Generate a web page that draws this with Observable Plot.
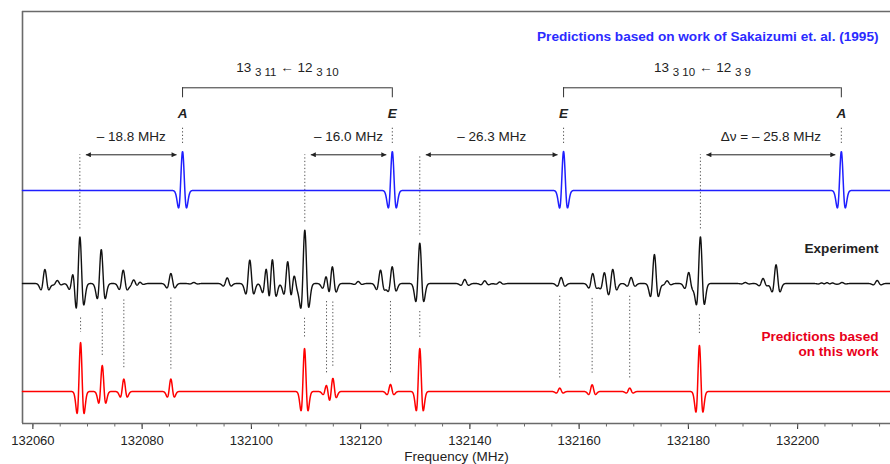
<!DOCTYPE html>
<html><head><meta charset="utf-8">
<script src="https://cdn.jsdelivr.net/npm/d3@7"></script>
<script src="https://cdn.jsdelivr.net/npm/@observablehq/plot@0.6"></script>
<style>body{margin:0;background:#fff}#chart svg{display:block}</style>
</head><body><div id="chart"></div>
<script>
// ---------- data ----------
const tickLabels = [132060, 132080, 132100, 132120, 132140, 132160, 132180, 132200];
const minorTicks = [132060,132065,132070,132075,132080,132085,132090,132095,132100,132105,132110,132115,132120,132125,132130,132135,132140,132145,132150,132155,132160,132165,132170,132175,132180,132185,132190,132195,132200,132205,132210,132215];

// Predictions (Sakaizumi et al. 1995): line centres (MHz), intensities, labels
const bluePeaks  = [132087.4, 132125.8, 132157.15, 132208.0];
const blueInt    = [39, 39, 39, 39];
const blueLabels = ["A", "E", "E", "A"];

// Experiment: line centres (MHz) and intensities
const expPeaks = [132062.2,132064.47,132067.39,132068.6,132072.52,132076.54,132078.48,132079.53,132085.26,132089.47,
  132095.58,132099.71,132102.77,132103.81,132106.67,132107.77,132109.78,132113.75,132114.8,132119.55,
  132123.64,132125.78,132130.83,132139.06,132142.72,132145.47,132156.71,132162.49,132164.63,132166.15,
  132169.52,132173.78,132176.1,132180.06,132182.2,132190.43,132193.67,132196.05,132204.47,132205.38,
  132206.3,132208.13,132214.56];
const expInt = [14,3,13,48,34,13.3,4,2,10,1,
  5.6,23.4,20.2,28.3,23.8,11.2,53.4,10.4,19,2,
  13.4,16.7,40.4,4,2.7,1.5,6,10,11,14.3,
  6,29,2.7,11,46.7,1,5,18.7,1,1.5,
  1,1,3];

// Predictions based on this work
const redPeaks = [132068.73,132072.7,132076.65,132085.26,132109.73,132113.76,132114.91,132125.46,132130.83,132156.45,132162.38,132169.26,132182.02];
const redInt   = [49,26,12.4,12.4,43,6.8,13.6,7,43,3.4,6.7,3.4,46];

// Frequency shifts (experiment -> old prediction)
const shiftFrom   = [132068.6, 132109.78, 132130.83, 132182.2];
const shiftTo     = [132087.4, 132125.8, 132157.15, 132208.0];
const shiftLabels = ["\u2013 18.8 MHz", "\u2013 16.0 MHz", "\u2013 26.3 MHz", "\u0394\u03bd = \u2013 25.8 MHz"];

// Transitions
const transFrom     = [132087.4, 132157.15];
const transTo       = [132125.8, 132208.0];
const transUpper    = ["13", "13"];
const transUpperSub = ["3 11", "3 10"];
const transLower    = ["12", "12"];
const transLowerSub = ["3 10", "3 9"];

// ---------- layout ----------
const FONT = "'Liberation Sans', Arial, Helvetica, sans-serif";
const xDomain = [132058.1, 132217.0];
const BLUE = 233, EXP = 140, RED = 32;          // trace baselines (y units = px)
const ARROW_Y = 268.7, ARROW_LABEL_Y = 287, AE_Y = 310.3, BRACKET_Y = 335.7, TRANS_Y = 356.3;
const BLUE_COL = "#1f1fff", RED_COL = "#ff0000";

// second-derivative Gaussian line profile
const shape = u => (1 - u*u) * Math.exp(-u*u/2);
const grid = d3.range(xDomain[0], xDomain[1] + 0.001, 0.04);
function trace(peaks, ints, s, base) {
  return grid.map(f => {
    let v = 0;
    for (let i = 0; i < peaks.length; i++) {
      const u = (f - peaks[i]) / s;
      if (Math.abs(u) < 8) v += ints[i] * shape(u);
    }
    return {f, y: base + v};
  });
}
const blueTrace = trace(bluePeaks, blueInt, 0.42, BLUE);
const expTrace  = trace(expPeaks, expInt, 0.42, EXP);
const redTrace  = trace(redPeaks, redInt, 0.37, RED);

const near = (tr, p, w) => tr.filter(d => Math.abs(d.f - p) <= w).map(d => d.y);
const redLinks = redPeaks.map((p, i) => ({x: p, y1: d3.min(near(expTrace, p, 1.2)) - 10, y2: RED + redInt[i] + 10}));
const expLinks = shiftFrom.map(p => ({x: p, y1: d3.max(near(expTrace, p, 0.6)) + 8, y2: ARROW_Y}));
const blueLinks = bluePeaks.map((p, i) => ({x: p, y1: BLUE + blueInt[i] + 8, y2: BLUE + blueInt[i] + 25}));
const dotted = [...redLinks, ...expLinks, ...blueLinks];

const shifts = shiftFrom.map((a, i) => ({a, b: shiftTo[i], label: shiftLabels[i], mid: (a + shiftTo[i]) / 2}));
const trans = transFrom.map((a, i) => ({a, b: transTo[i], mid: (a + transTo[i]) / 2,
  text: `${transUpper[i]} ${transUpperSub[i]} \u2190 ${transLower[i]} ${transLowerSub[i]}`}));
const aeLabels = bluePeaks.map((p, i) => ({x: p, t: blueLabels[i]}));

const FRAME = "#6a6a6a";
const svg = Plot.plot({
  width: 890, height: 464,
  marginLeft: 22, marginRight: 0, marginTop: 11, marginBottom: 41,
  style: {fontFamily: FONT, fontSize: "13px", background: "#fff", color: "#222"},
  x: {domain: xDomain, ticks: tickLabels, tickSize: 6, tickPadding: 6, tickFormat: d3.format("d"), label: null},
  y: {domain: [0, 412], axis: null},
  marks: [
    // frame
    Plot.ruleX([xDomain[0]], {y1: 0, y2: 412, stroke: FRAME, strokeWidth: 1.6}),
    Plot.ruleY([412], {stroke: FRAME, strokeWidth: 1.6}),
    Plot.ruleY([0], {stroke: FRAME, strokeWidth: 1.6}),
    Plot.ruleX(minorTicks, {y1: 0, y2: -3.5, stroke: FRAME, strokeWidth: 1}),
    // dotted guide lines
    Plot.ruleX(dotted, {x: "x", y1: "y1", y2: "y2", stroke: "#555", strokeWidth: 1, strokeDasharray: "1.3,2.2"}),
    // traces
    Plot.line(blueTrace, {x: "f", y: "y", stroke: BLUE_COL, strokeWidth: 1.5}),
    Plot.line(expTrace, {x: "f", y: "y", stroke: "#111", strokeWidth: 1.4}),
    Plot.line(redTrace, {x: "f", y: "y", stroke: RED_COL, strokeWidth: 1.5}),
    // shift arrows
    Plot.link(shifts, {x1: "a", x2: "b", y1: ARROW_Y, y2: ARROW_Y, stroke: "#222", strokeWidth: 1}),
    Plot.text(shifts, {x: "mid", y: ARROW_LABEL_Y, text: "label", fontSize: 13.5, fill: "#222"}),
    // A / E labels
    Plot.text(aeLabels, {x: "x", y: AE_Y, text: "t", fontSize: 13.5, fontWeight: "bold", fontStyle: "italic", fill: "#222"}),
    // brackets
    Plot.ruleY(trans, {x1: "a", x2: "b", y: BRACKET_Y, stroke: "#333", strokeWidth: 1}),
    Plot.ruleX(trans, {x: "a", y1: BRACKET_Y - 10, y2: BRACKET_Y, stroke: "#333", strokeWidth: 1}),
    Plot.ruleX(trans, {x: "b", y1: BRACKET_Y - 10, y2: BRACKET_Y, stroke: "#333", strokeWidth: 1}),
    Plot.text(trans, {x: "mid", y: TRANS_Y, text: "text", fontSize: 13.5, fill: "#222"}),
    // series titles
    Plot.text(["Predictions based on work of Sakaizumi et. al. (1995)"], {frameAnchor: "top-right", dx: -12, dy: 25, textAnchor: "end", lineAnchor: "middle", fontSize: 13.6, fontWeight: "bold", fill: "#2b2bff"}),
    Plot.text(["Experiment"], {frameAnchor: "right", y: EXP + 35.3, dx: -12, textAnchor: "end", lineAnchor: "middle", fontSize: 13.6, fontWeight: "bold", fill: "#222"}),
    Plot.text(["Predictions based\non this work"], {frameAnchor: "right", y: RED + 48, dx: -12, textAnchor: "end", lineAnchor: "middle", lineHeight: 1.16, fontSize: 13.6, fontWeight: "bold", fill: "#e8001a"}),
    // axis title
    Plot.text(["Frequency (MHz)"], {frameAnchor: "bottom", dy: 33.5, lineAnchor: "middle", fontSize: 13.5, fill: "#222"})
  ]
});
document.getElementById("chart").appendChild(svg);

// ---------- post-processing: double arrowheads & subscripts ----------
const root = d3.select(svg);
const defs = root.insert("defs", ":first-child");
defs.append("marker").attr("id", "ah").attr("viewBox", "0 0 10 10").attr("refX", 10).attr("refY", 5)
  .attr("markerUnits", "userSpaceOnUse").attr("markerWidth", 6).attr("markerHeight", 5)
  .attr("orient", "auto-start-reverse")
  .append("path").attr("d", "M0,0L10,5L0,10z").attr("fill", "#222");
root.selectAll('g[aria-label="link"] path').each(function() {
  const n = (this.getAttribute("d").match(/-?\d+(\.\d+)?(e-?\d+)?/g) || []).map(Number);
  if (n.length < 4) return;
  let [x1, y1, x2, y2] = [n[0], n[1], n[n.length-2], n[n.length-1]];
  const dir = Math.sign(x2 - x1) || 1;
  x1 += 6 * dir; x2 -= 6 * dir;
  this.setAttribute("d", `M${x1},${y1}L${x2},${y2}`);
  this.setAttribute("marker-start", "url(#ah)");
  this.setAttribute("marker-end", "url(#ah)");
});
let ti = 0;
root.selectAll("text").each(function() {
  if (!this.textContent.includes("\u2190")) return;
  const i = ti++;
  const t = d3.select(this);
  t.text(null);
  t.append("tspan").text(transUpper[i] + " ");
  t.append("tspan").attr("dy", 4).attr("font-size", 11.5).text(transUpperSub[i]);
  t.append("tspan").attr("dy", -4).text(" \u2190 " + transLower[i] + " ");
  t.append("tspan").attr("dy", 4).attr("font-size", 11.5).text(transLowerSub[i]);
});
</script></body></html>
